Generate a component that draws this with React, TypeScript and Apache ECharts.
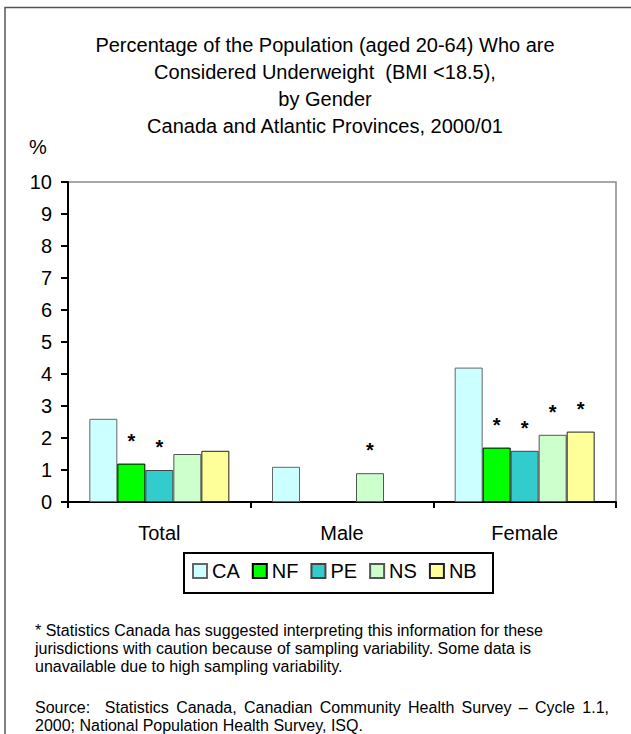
import React, { useEffect, useRef } from 'react';
import * as echarts from 'echarts';

const FONT = "'Liberation Sans', Arial, sans-serif";

const categories = ['Total', 'Male', 'Female'];
const seriesNames = ['CA', 'NF', 'PE', 'NS', 'NB'];

const caValues = [2.6, 1.1, 4.2];
const nfValues = [1.2, null, 1.7];
const peValues = [1.0, null, 1.6];
const nsValues = [1.5, 0.9, 2.1];
const nbValues = [1.6, null, 2.2];

// asterisk (use with caution) flags per category
const caStars = [false, false, false];
const nfStars = [true, false, true];
const peStars = [true, false, true];
const nsStars = [false, true, true];
const nbStars = [false, false, true];

const seriesColors = ['#CCFFFF', '#00FF00', '#33CCCC', '#CCFFCC', '#FFFF99'];
const borderColors = ['#666666', '#000000', '#444444', '#555555', '#222222'];

const titleLines = [
  'Percentage of the Population (aged 20-64) Who are',
  'Considered Underweight  (BMI <18.5),',
  'by Gender',
  'Canada and Atlantic Provinces, 2000/01',
];

const footnoteLines = [
  '* Statistics Canada has suggested interpreting this information for these',
  'jurisdictions with caution because of sampling variability. Some data is',
  'unavailable due to high sampling variability.',
];

const sourceLine1 = 'Source:  Statistics Canada, Canadian Community Health Survey \u2013 Cycle 1.1,';
const sourceLine2 = '2000; National Population Health Survey, ISQ.';

const allValues = [caValues, nfValues, peValues, nsValues, nbValues];
const allStars = [caStars, nfStars, peStars, nsStars, nbStars];

function justifiedWords(text: string, font: string, x0: number, x1: number) {
  const canvas = document.createElement('canvas');
  const ctx = canvas.getContext('2d') as CanvasRenderingContext2D;
  ctx.font = font;
  const parts = text.split(' ');
  // words and number of spaces preceding each
  const words: { w: string; spacesBefore: number }[] = [];
  let pending = 0;
  parts.forEach((p, i) => {
    if (p === '') {
      pending += 1;
      return;
    }
    words.push({ w: p, spacesBefore: i === 0 ? 0 : pending + 1 });
    pending = 0;
  });
  const widths = words.map((w) => ctx.measureText(w.w).width);
  const totalWords = widths.reduce((a, b) => a + b, 0);
  const totalSpaces = words.reduce((a, b) => a + b.spacesBefore, 0);
  const s = (x1 - x0 - totalWords) / Math.max(1, totalSpaces);
  const out: { text: string; x: number }[] = [];
  let x = x0;
  words.forEach((w, i) => {
    x += w.spacesBefore * s;
    out.push({ text: w.w, x });
    x += widths[i];
  });
  return out;
}

export default function App() {
  const ref = useRef<HTMLDivElement>(null);

  useEffect(() => {
    const chart = echarts.init(ref.current as HTMLDivElement, null, { renderer: 'svg' });

    const series = seriesNames.map((name, si) => ({
      name,
      type: 'bar',
      barWidth: 28,
      barGap: '0%',
      itemStyle: {
        color: seriesColors[si],
        borderColor: borderColors[si],
        borderWidth: 1,
      },
      label: {
        show: false,
        position: 'top',
        distance: 13,
        formatter: '*',
        fontSize: 20,
        fontWeight: 'bold',
        color: '#000',
        fontFamily: FONT,
      },
      data: allValues[si].map((v, i) => ({
        value: v,
        label: { show: allStars[si][i] },
      })),
    }));

    const noteFont = `16px ${FONT}`;
    const graphics: any[] = [];
    // outer frame (top and left edges)
    graphics.push({
      type: 'polyline',
      shape: { points: [[5, 734], [5, 7.5], [631, 7.5]] },
      style: { stroke: '#555', lineWidth: 1.5, fill: 'none' },
      silent: true,
    });
    titleLines.forEach((t, i) => {
      graphics.push({
        type: 'text',
        x: 325,
        y: 45 + i * 27,
        style: {
          text: t,
          font: `20px ${FONT}`,
          fill: '#000',
          textAlign: 'center',
          textVerticalAlign: 'middle',
        },
      });
    });
    graphics.push({
      type: 'text',
      x: 29,
      y: 147,
      style: {
        text: '%',
        font: `20px ${FONT}`,
        fill: '#000',
        textAlign: 'left',
        textVerticalAlign: 'middle',
      },
    });
    // legend frame
    graphics.push({
      type: 'rect',
      shape: { x: 184, y: 553, width: 309, height: 40 },
      style: { stroke: '#000', lineWidth: 2, fill: 'none' },
      silent: true,
      z: 0,
    });
    footnoteLines.forEach((t, i) => {
      graphics.push({
        type: 'text',
        x: 35,
        y: 630.3 + i * 18.3,
        style: {
          text: t,
          font: noteFont,
          fill: '#000',
          textAlign: 'left',
          textVerticalAlign: 'middle',
        },
      });
    });
    justifiedWords(sourceLine1, noteFont, 35, 609).forEach((w) => {
      graphics.push({
        type: 'text',
        x: w.x,
        y: 707.3,
        style: {
          text: w.text,
          font: noteFont,
          fill: '#000',
          textAlign: 'left',
          textVerticalAlign: 'middle',
        },
      });
    });
    graphics.push({
      type: 'text',
      x: 35,
      y: 725.3,
      style: {
        text: sourceLine2,
        font: noteFont,
        fill: '#000',
        textAlign: 'left',
        textVerticalAlign: 'middle',
      },
    });

    const option: any = {
      animation: false,
      backgroundColor: '#ffffff',
      textStyle: { fontFamily: FONT },
      grid: {
        left: 68,
        right: 15,
        top: 182,
        bottom: 232,
        show: true,
        borderColor: '#8a8a8a',
        borderWidth: 1.5,
        backgroundColor: 'transparent',
      },
      legend: {
        show: true,
        data: seriesNames,
        left: 192,
        top: 561,
        padding: 0,
        itemWidth: 14,
        itemHeight: 14,
        itemGap: 12,
        icon: 'rect',
        selectedMode: false,
        textStyle: { fontSize: 20, color: '#000', fontFamily: FONT },
      },
      xAxis: {
        type: 'category',
        data: categories,
        axisLine: { show: true, lineStyle: { color: '#000', width: 2 } },
        axisTick: { show: true, length: 6, lineStyle: { color: '#000', width: 2 } },
        axisLabel: { fontSize: 20, color: '#000', margin: 21, fontFamily: FONT },
        splitLine: { show: false },
      },
      yAxis: {
        type: 'value',
        min: 0,
        max: 10,
        interval: 1,
        axisLine: { show: true, lineStyle: { color: '#000', width: 2 } },
        axisTick: { show: true, length: 7, lineStyle: { color: '#000', width: 2 } },
        axisLabel: { fontSize: 20, color: '#000', margin: 16, fontFamily: FONT },
        splitLine: { show: false },
      },
      graphic: graphics,
      series,
    };

    chart.setOption(option);
    return () => {
      chart.dispose();
    };
  }, []);

  return (
    <div
      ref={ref}
      style={{ position: 'absolute', left: 0, top: 0, width: 631, height: 734, background: '#fff' }}
    />
  );
}
